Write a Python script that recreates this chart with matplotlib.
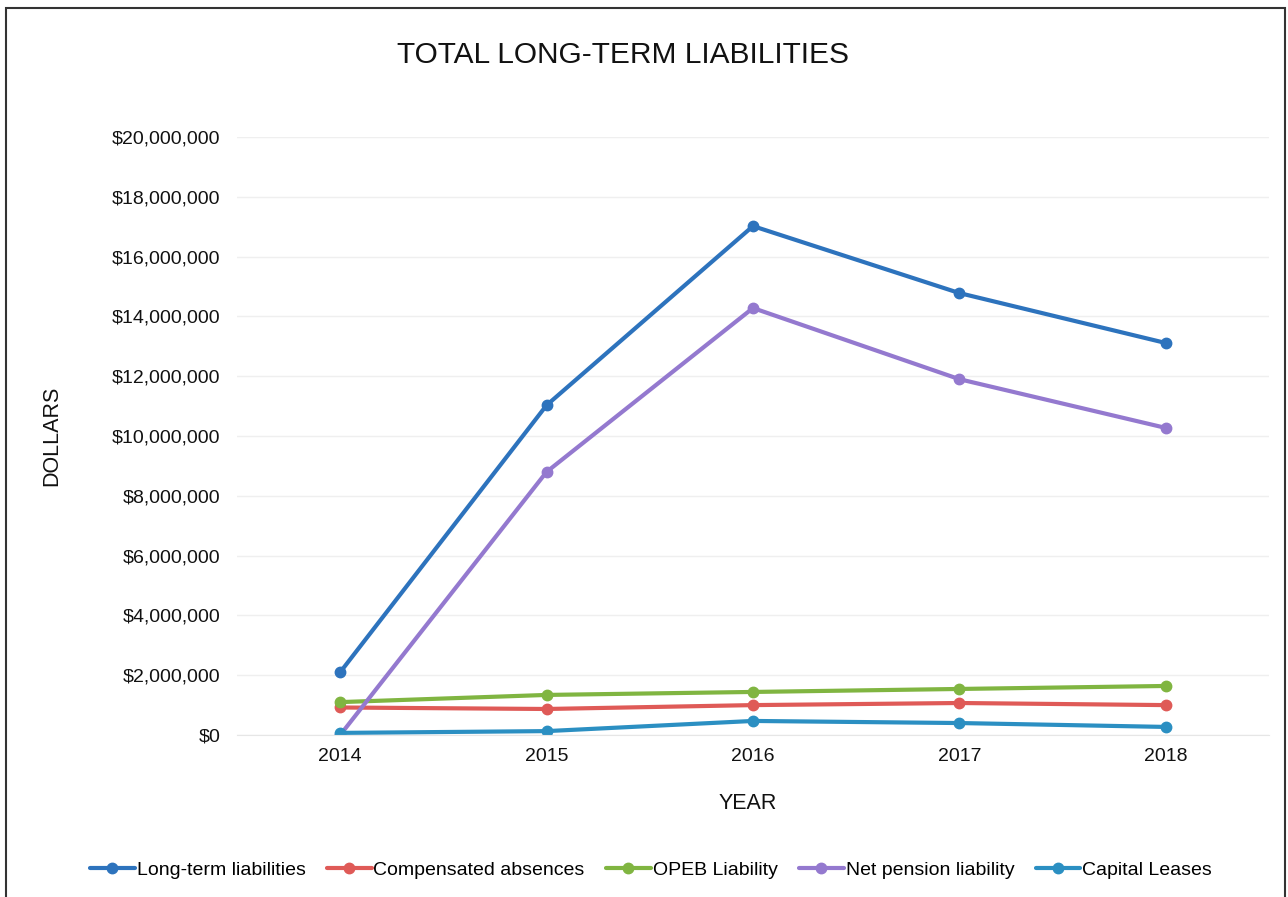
import matplotlib
matplotlib.use("Agg")
import matplotlib.pyplot as plt
from matplotlib.ticker import FuncFormatter
from matplotlib.patches import Rectangle

years = [2014, 2015, 2016, 2017, 2018]
long_term = [2100000, 11030000, 17020000, 14780000, 13110000]
comp_absences = [920000, 870000, 1000000, 1070000, 1000000]
opeb = [1100000, 1340000, 1440000, 1540000, 1640000]
net_pension = [0, 8800000, 14280000, 11900000, 10270000]
capital_leases = [70000, 130000, 470000, 400000, 270000]

series = [
    ("Long-term liabilities", long_term, "#2d73bd"),
    ("Compensated absences", comp_absences, "#df5a57"),
    ("OPEB Liability", opeb, "#80b541"),
    ("Net pension liability", net_pension, "#9479cf"),
    ("Capital Leases", capital_leases, "#2b8fc2"),
]

plt.rcParams["font.family"] = ["Liberation Sans", "DejaVu Sans"]

fig = plt.figure(figsize=(12.88, 8.97), dpi=100)
fig.patches.append(Rectangle((6 / 1288, -0.05), 1279 / 1288, 1 - 8 / 897 + 0.05,
                             transform=fig.transFigure, fill=False,
                             edgecolor="#333333", linewidth=1.5))

ax = fig.add_axes([237 / 1288, 1 - 735 / 897, (1269 - 237) / 1288, (735 - 137) / 897])

for name, vals, color in series:
    ax.plot(years, vals, color=color, linewidth=3, marker="o", markersize=7.5,
            label=name, solid_capstyle="round")

ax.set_xlim(2013.5, 2018.5)
ax.set_ylim(0, 20000000)
ax.set_xticks(years)
ax.set_yticks(range(0, 20000001, 2000000))
ax.yaxis.set_major_formatter(FuncFormatter(lambda v, p: f"${v:,.0f}"))
ax.grid(axis="y", color="#efefef", linewidth=1)
ax.set_axisbelow(True)
for s in ["top", "right", "left"]:
    ax.spines[s].set_visible(False)
ax.spines["bottom"].set_color("#e6e6e6")
ax.tick_params(axis="both", length=0, colors="#111111")
ax.tick_params(axis="y", pad=12, labelsize=14)
ax.tick_params(axis="x", pad=9, labelsize=14)

fig.text(623 / 1288, 1 - 55 / 897, "TOTAL LONG-TERM LIABILITIES", ha="center",
         va="center", fontsize=21.5, color="#111111")
fig.text(748 / 1288, 1 - 803 / 897, "YEAR", ha="center", va="center",
         fontsize=15.5, color="#111111")
fig.text(52 / 1288, 1 - 436 / 897, "DOLLARS", ha="center", va="center",
         rotation=90, fontsize=15.5, color="#111111")

fig.legend(loc="center", bbox_to_anchor=(651 / 1288, 1 - 870 / 897), ncol=5,
           frameon=False, fontsize=14, handlelength=2.3, handletextpad=0.1,
           columnspacing=1.1)

fig.savefig("out.png", dpi=100, facecolor="white")
